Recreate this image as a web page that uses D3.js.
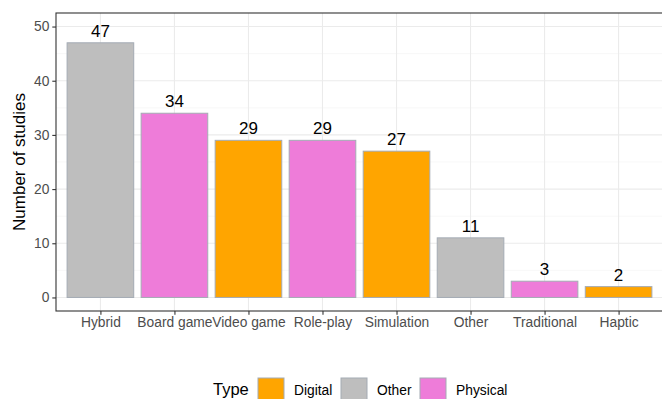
<!DOCTYPE html>
<html>
<head>
<meta charset="utf-8">
<script src="https://cdn.jsdelivr.net/npm/d3@7"></script>
<style>
  html, body { margin: 0; padding: 0; background: #fff; }
  svg { display: block; font-family: "Liberation Sans", Arial, sans-serif; }
</style>
</head>
<body>
<svg id="chart" width="662" height="399"></svg>
<script>
// Study counts per game type
const categories = ["Hybrid", "Board game", "Video game", "Role-play", "Simulation", "Other", "Traditional", "Haptic"];
const counts = [47, 34, 29, 29, 27, 11, 3, 2];
const types = ["Other", "Physical", "Digital", "Physical", "Digital", "Other", "Physical", "Digital"];
const legendTypes = ["Digital", "Other", "Physical"];
const yTicks = [0, 10, 20, 30, 40, 50];

const fill = d3.scaleOrdinal()
  .domain(legendTypes)
  .range(["#FFA500", "#BEBEBE", "#EE7CD9"]);

const svg = d3.select("#chart");
const panel = { left: 56, top: 13, right: 663, bottom: 311 };

// discrete axis with 0.6 padding on each side, bars 90% wide
const step = (panel.right - panel.left) / (categories.length - 1 + 1.2);
const x = d3.scalePoint()
  .domain(categories)
  .range([panel.left + 0.6 * step, panel.right - 0.6 * step]);
const barW = step * 0.9;

const y = d3.scaleLinear().domain([-2.5, 52.5]).range([panel.bottom, panel.top]);

const g = svg.append("g");

// panel background
g.append("rect")
  .attr("x", panel.left).attr("y", panel.top)
  .attr("width", panel.right - panel.left).attr("height", panel.bottom - panel.top)
  .attr("fill", "#fff");

// minor horizontal grid
g.selectAll("line.minor")
  .data([5, 15, 25, 35, 45])
  .join("line")
  .attr("x1", panel.left).attr("x2", panel.right)
  .attr("y1", d => y(d)).attr("y2", d => y(d))
  .attr("stroke", "#F4F4F4").attr("stroke-width", 0.6);

// major horizontal grid
g.selectAll("line.hmajor")
  .data(yTicks)
  .join("line")
  .attr("x1", panel.left).attr("x2", panel.right)
  .attr("y1", d => y(d)).attr("y2", d => y(d))
  .attr("stroke", "#EBEBEB").attr("stroke-width", 1.1);

// major vertical grid
g.selectAll("line.vmajor")
  .data(categories)
  .join("line")
  .attr("x1", d => x(d)).attr("x2", d => x(d))
  .attr("y1", panel.top).attr("y2", panel.bottom)
  .attr("stroke", "#EBEBEB").attr("stroke-width", 1.1);

// bars
g.selectAll("rect.bar")
  .data(categories)
  .join("rect")
  .attr("x", d => x(d) - barW / 2)
  .attr("width", barW)
  .attr("y", (d, i) => y(counts[i]))
  .attr("height", (d, i) => y(0) - y(counts[i]))
  .attr("fill", (d, i) => fill(types[i]))
  .attr("stroke", "#A4ABB4")
  .attr("stroke-width", 1);

// value labels
g.selectAll("text.val")
  .data(categories)
  .join("text")
  .attr("x", d => x(d))
  .attr("y", (d, i) => y(counts[i]) - 6)
  .attr("text-anchor", "middle")
  .attr("font-size", 17)
  .attr("fill", "#000")
  .text((d, i) => counts[i]);

// panel border
g.append("rect")
  .attr("x", panel.left).attr("y", panel.top)
  .attr("width", panel.right - panel.left).attr("height", panel.bottom - panel.top)
  .attr("fill", "none").attr("stroke", "#333").attr("stroke-width", 1.1);

// y axis
const yAxis = svg.append("g")
  .attr("transform", `translate(${panel.left},0)`)
  .call(d3.axisLeft(y).tickValues(yTicks).tickSize(3.7).tickPadding(3));
yAxis.select(".domain").remove();
yAxis.selectAll(".tick line").attr("stroke", "#333").attr("stroke-width", 1.1);
yAxis.selectAll(".tick text")
  .attr("fill", "#4D4D4D").attr("font-size", 13.8)
  .attr("font-family", "Liberation Sans, Arial, sans-serif");

// x axis
const xAxis = svg.append("g")
  .attr("transform", `translate(0,${panel.bottom})`)
  .call(d3.axisBottom(x).tickSize(3.7).tickPadding(3));
xAxis.select(".domain").remove();
xAxis.selectAll(".tick line").attr("stroke", "#333").attr("stroke-width", 1.1);
xAxis.selectAll(".tick text")
  .attr("fill", "#4D4D4D").attr("font-size", 13.8)
  .attr("font-family", "Liberation Sans, Arial, sans-serif");

// y axis title
svg.append("text")
  .attr("transform", `translate(25,${(panel.top + panel.bottom) / 2}) rotate(-90)`)
  .attr("text-anchor", "middle")
  .attr("font-size", 17)
  .attr("fill", "#000")
  .text("Number of studies");

// legend
const legend = svg.append("g");
legend.append("text")
  .attr("x", 213).attr("y", 395)
  .attr("font-size", 16.5).attr("fill", "#000")
  .text("Type");

const keyX = [258, 341, 420];
legend.selectAll("rect.key")
  .data(legendTypes)
  .join("rect")
  .attr("x", (d, i) => keyX[i])
  .attr("y", 378)
  .attr("width", 26).attr("height", 26)
  .attr("fill", d => fill(d))
  .attr("stroke", "#A4ABB4").attr("stroke-width", 1);

legend.selectAll("text.lab")
  .data(legendTypes)
  .join("text")
  .attr("x", (d, i) => keyX[i] + 36)
  .attr("y", 395)
  .attr("font-size", 13.8).attr("fill", "#000")
  .text(d => d);
</script>
</body>
</html>
